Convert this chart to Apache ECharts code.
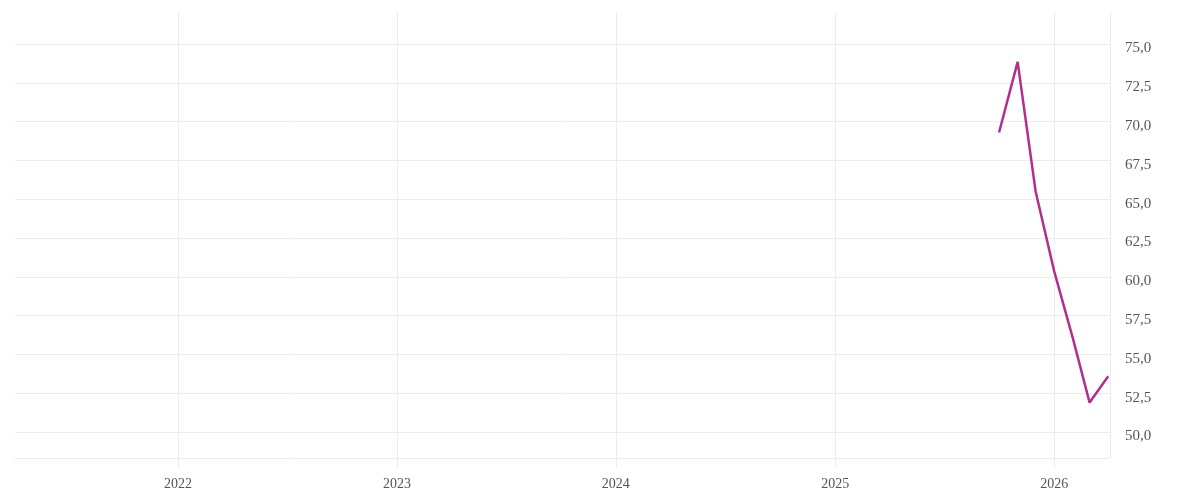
<!DOCTYPE html>
<html>
<head>
<meta charset="utf-8">
<title>Chart</title>
<script src="https://cdn.jsdelivr.net/npm/echarts@6/dist/echarts.min.js"></script>
<style>
    html, body { margin: 0; padding: 0; background: #fff; }
    #main { width: 1200px; height: 500px; }
</style>
</head>
<body>
<div id="main"></div>
<script>
// data
var dates = ['2025-10-01', '2025-11-01', '2025-12-01', '2026-01-01', '2026-02-01', '2026-03-01', '2026-04-01'];
var values = [69.3, 73.85, 65.5, 60.35, 56.05, 51.9, 53.6];
var rangeStart = '2021-04-04';
var rangeEnd = '2026-04-04';
var yTicks = [50, 75, 2.5]; // min, max, step of the labelled axis

var font = '"Liberation Serif", serif';
var gridColor = '#ececec';

var myChart = echarts.init(document.getElementById('main'));

var option = {
    animation: false,
    grid: [
        // outer area: vertical lines + x labels + the line itself
        {left: 15, right: 90, top: 12, bottom: 42},
        // inner area: horizontal lines + y labels
        {left: 15, right: 90, top: 44, bottom: 68}
    ],
    xAxis: [
        {
            type: 'time',
            gridIndex: 0,
            min: rangeStart,
            max: rangeEnd,
            splitNumber: 5,
            axisLine: {show: true, lineStyle: {color: gridColor}},
            axisTick: {show: true, length: 10, lineStyle: {color: gridColor}},
            splitLine: {show: true, showMinLine: false, lineStyle: {color: gridColor}},
            axisLabel: {
                color: '#555',
                fontFamily: font,
                fontSize: 14,
                margin: 19,
                formatter: function (val) {
                    var d = new Date(val);
                    return (d.getMonth() === 0 && d.getDate() === 1) ? String(d.getFullYear()) : '';
                }
            }
        },
        {
            type: 'value',
            gridIndex: 1,
            show: false
        }
    ],
    yAxis: [
        {
            type: 'value',
            gridIndex: 0,
            position: 'right',
            min: 48.33,
            max: 77.06,
            axisLine: {show: true, lineStyle: {color: gridColor}},
            axisTick: {show: false},
            axisLabel: {show: false},
            splitLine: {show: false}
        },
        {
            type: 'value',
            gridIndex: 1,
            position: 'right',
            min: yTicks[0],
            max: yTicks[1],
            interval: yTicks[2],
            axisLine: {show: false},
            axisTick: {show: false},
            splitLine: {show: true, lineStyle: {color: gridColor}},
            axisLabel: {
                margin: 15,
                formatter: function (v) {
                    return '{t|' + v.toFixed(1).replace('.', ',') + '}';
                },
                rich: {
                    t: {
                        color: '#555',
                        fontFamily: font,
                        fontSize: 15,
                        padding: [9, 0, 0, 0]
                    }
                }
            }
        }
    ],
    series: [
        {
            type: 'line',
            xAxisIndex: 0,
            yAxisIndex: 0,
            data: dates.map(function (d, i) { return [d, values[i]]; }),
            showSymbol: false,
            symbol: 'none',
            lineStyle: {color: '#b3308a', width: 2.5},
            z: 5
        }
    ]
};

myChart.setOption(option);
</script>
</body>
</html>
